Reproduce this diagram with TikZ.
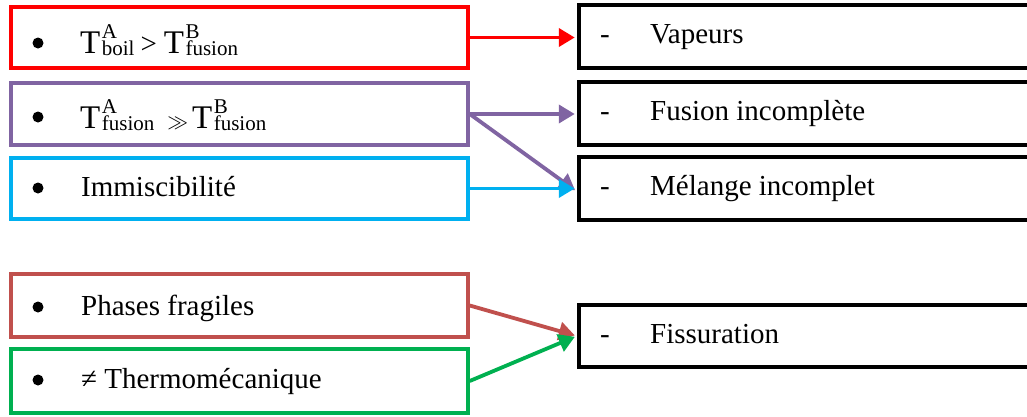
\documentclass[tikz,border=0pt]{standalone}
\usepackage{fontspec}
\setmainfont{Liberation Serif}
\usetikzlibrary{arrows.meta}
\definecolor{cred}{HTML}{FF0000}
\definecolor{cpurple}{HTML}{8064A2}
\definecolor{cblue}{HTML}{00B0F0}
\definecolor{cbrown}{HTML}{C0504D}
\definecolor{cgreen}{HTML}{00B050}
\newcommand\TTx[2]{{\fontsize{33}{33}\selectfont T}\kern1.5pt\rlap{\raisebox{15pt}{\fontsize{21}{21}\selectfont #1}}\raisebox{-2pt}{\fontsize{21}{21}\selectfont #2}}
\begin{document}
\begin{tikzpicture}[x=1pt,y=-1pt,
  lbox/.style={draw,line width=3.5pt,minimum width=457pt,inner sep=0pt},
  rbox/.style={draw=black,line width=4.5pt,minimum width=461pt,inner sep=0pt},
  txt/.style={anchor=base west,inner sep=0pt,font=\fontsize{29}{34}\selectfont},
  dsh/.style={anchor=base,inner sep=0pt,font=\fontsize{29}{34}\selectfont},
  bul/.style={circle,fill=black,inner sep=0pt,minimum size=11pt},
  arr/.style={line width=3.8pt,shorten >=2pt,-{Triangle[length=16pt,width=18pt]}}]
\useasboundingbox (0,0) rectangle (1027,416);
% left boxes
\node[lbox,draw=cred,minimum height=61pt] (l1) at (239.5,37.5) {};
\node[lbox,draw=cpurple,minimum height=62pt] (l2) at (239.5,114) {};
\node[lbox,draw=cblue,minimum height=61pt] (l3) at (239.5,188.5) {};
\node[lbox,draw=cbrown,minimum height=63pt] (l4) at (239.5,305.5) {};
\node[lbox,draw=cgreen,minimum height=64pt] (l5) at (239.5,381) {};
% right boxes
\node[rbox,minimum height=63pt] (r1) at (809.5,36.5) {};
\node[rbox,minimum height=63pt] (r2) at (809.5,113.5) {};
\node[rbox,minimum height=63pt] (r3) at (809.5,188.5) {};
\node[rbox,minimum height=62pt] (r4) at (809.5,336) {};
% bullets
\node[bul] (b1) at (38,43) {};
\node[bul] (b2) at (38,117) {};
\node[bul] (b3) at (38,188) {};
\node[bul] (b4) at (38,307) {};
\node[bul] (b5) at (38,380) {};
% left texts
\node[txt] (t1) at (80,53) {\TTx{A}{boil}\hspace{6pt}>\hspace{7pt}\TTx{B}{fusion}};
\node[txt] (t2) at (80,128) {\TTx{A}{fusion}\hspace{13pt}{\fontsize{22}{22}\selectfont$\gg$}\hspace{4pt}\TTx{B}{fusion}};
\node[txt] (t3) at (81,196) {Immiscibilité};
\node[txt] (t4) at (81,315) {Phases fragiles};
\node[txt] (t5) at (81,388) {≠ Thermomécanique};
% right texts
\node[dsh] (d1) at (605,43) {-};
\node[dsh] (d2) at (605,120) {-};
\node[dsh] (d3) at (605,195) {-};
\node[dsh] (d4) at (605,343) {-};
\node[txt] (u1) at (650,43) {Vapeurs};
\node[txt] (u2) at (650,120) {Fusion incomplète};
\node[txt] (u3) at (650,195) {Mélange incomplet};
\node[txt] (u4) at (650,343) {Fissuration};
% arrows
\draw[arr,cred] (l1.east) -- (l1.east -| r1.west);
\draw[arr,cpurple] (l2.east) -- (l2.east -| r2.west);
\draw[arr,cpurple] (l2.east) -- ([yshift=-3pt]r3.west);
\draw[arr,cblue] (l3.east) -- (r3.west);
\draw[arr,cbrown] (l4.east) -- (r4.west);
\draw[arr,cgreen] (l5.east) -- (r4.west);
\end{tikzpicture}
\end{document}
